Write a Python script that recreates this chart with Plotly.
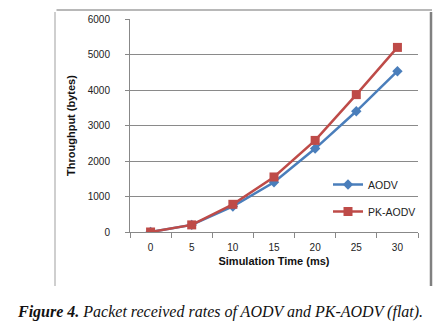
import plotly.graph_objects as go

# Simulation time (ms) and throughput (bytes) for each routing protocol
sim_time = ["0", "5", "10", "15", "20", "25", "30"]
aodv = [0, 200, 720, 1400, 2350, 3400, 4530]
pk_aodv = [0, 200, 780, 1550, 2580, 3870, 5200]
y_ticks = [0, 1000, 2000, 3000, 4000, 5000, 6000]

W, H = 445, 323
L, R, T, B = 130, 27, 19, 91
pw, ph = W - L - R, H - T - B


def px_x(x):
    return (x - L) / pw


def px_y(y):
    return (H - B - y) / ph


fig = go.Figure()
fig.add_trace(go.Scatter(
    x=sim_time, y=aodv, name="AODV", mode="lines+markers",
    line=dict(color="#4A7EBB", width=2.5),
    marker=dict(symbol="diamond", size=8, color="#4A7EBB"),
    legendgroup="a",
))
fig.add_trace(go.Scatter(
    x=sim_time, y=pk_aodv, name="PK-AODV", mode="lines+markers",
    line=dict(color="#BE4B48", width=2.5),
    marker=dict(symbol="square", size=9, color="#BE4B48"),
    legendgroup="b",
))

axis_font = dict(family="Liberation Sans, Arial, sans-serif", size=10, color="#222")
title_font = dict(family="Liberation Sans, Arial, sans-serif", size=11, color="#111")

fig.update_xaxes(
    type="category", range=[-0.5, 6.5],
    showline=True, linecolor="#888", linewidth=1,
    ticks="outside", tickson="boundaries", ticklen=5, tickcolor="#888",
    ticklabelstandoff=6,
    showgrid=False, tickfont=axis_font,
    title=dict(text="<b>Simulation Time (ms)</b>", font=title_font, standoff=5),
)
fig.update_yaxes(
    range=[0, 6000], tickvals=y_ticks, ticktext=[str(v) for v in y_ticks],
    showline=True, linecolor="#888", linewidth=1,
    ticks="outside", ticklen=4, tickcolor="#888",
    ticklabelstandoff=13,
    showgrid=True, gridcolor="#8a8a8a", gridwidth=1,
    zeroline=False, tickfont=axis_font,
    title=dict(text="<b>Throughput (bytes)</b>", font=title_font, standoff=9),
)

fig.add_annotation(
    xref="paper", yref="paper", x=px_x(220), y=px_y(312),
    text="<b><i>Figure 4.</i></b><i> Packet received rates of AODV and PK-AODV (flat).</i>",
    showarrow=False, xanchor="center", yanchor="middle",
    font=dict(family="Liberation Serif, Times New Roman, serif", size=16, color="#111"),
)

fig.update_layout(
    width=W, height=H,
    margin=dict(l=L, r=R, t=T, b=B),
    paper_bgcolor="white", plot_bgcolor="white",
    showlegend=True,
    legend=dict(
        x=px_x(328), y=px_y(170), xanchor="left", yanchor="top",
        bgcolor="rgba(255,255,255,0)", font=dict(family="Liberation Sans, Arial, sans-serif", size=10.5, color="#222"),
        traceorder="grouped", tracegroupgap=8,
    ),
)

# Outer chart frame, open at the bottom, drawn as head-less annotation arrows
frame_lines = [
    # (head x px, head y px, tail dx px, tail dy px, colour, width)
    (432, 10, -377, 0, "#b8b8b8", 2),
    (55, 286, 0, -276, "#c0c0c0", 1.5),
    (431, 286, 0, -276, "#808080", 2.5),
]
for hx, hy, dx, dy, c, w in frame_lines:
    fig.add_annotation(
        xref="paper", yref="paper", x=px_x(hx), y=px_y(hy),
        ax=dx, ay=dy, axref="pixel", ayref="pixel",
        text=" ", font=dict(size=1), showarrow=True,
        arrowhead=0, arrowwidth=w, arrowcolor=c, standoff=0, startstandoff=0,
    )

fig.write_html("out.html")
